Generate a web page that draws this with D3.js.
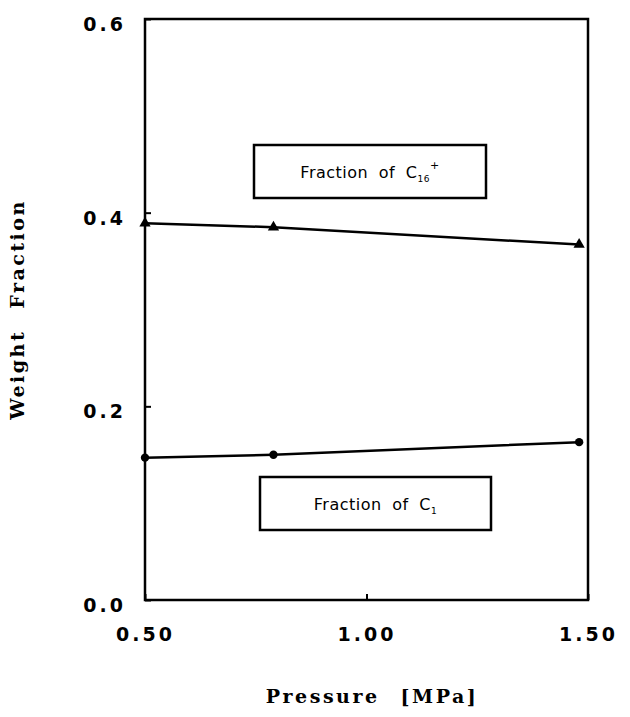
<!DOCTYPE html>
<html lang="en">
<head>
    <title>Weight Fraction vs Pressure</title>
    <meta charset="utf-8">
    <script src="https://cdn.jsdelivr.net/npm/d3@7/dist/d3.min.js" type="text/javascript"></script>
    <style>
        body { margin: 0; background: #fff; }
        svg text { fill: #000; }
        .tick-lbl { font-family: 'DejaVu Sans', sans-serif; font-weight: bold; font-size: 19px; letter-spacing: 3px; }
        .title { font-family: 'DejaVu Serif', serif; font-weight: bold; font-size: 19px; letter-spacing: 2.5px; word-spacing: 12px; }
        .legend { font-family: 'DejaVu Sans', sans-serif; font-size: 16px; letter-spacing: 0.5px; word-spacing: 5px; }
    </style>
</head>
<body>
<div id='chart'><svg></svg></div>

<script>
// pressure [MPa]
var pressure = [0.50, 0.79, 1.48];
// weight fraction series
var c16plus = [0.389, 0.385, 0.367];
var c1 = [0.147, 0.150, 0.163];

var x_ticks = [0.50, 1.00, 1.50];
var y_ticks = [0.0, 0.2, 0.4, 0.6];

var width = 630, height = 717;
var plot = {left: 145, right: 588, top: 19, bottom: 600};

var svg = d3.select('#chart svg')
    .attr('width', width)
    .attr('height', height);

var x = d3.scaleLinear().domain([0.5, 1.5]).range([plot.left, plot.right]);
var y = d3.scaleLinear().domain([0, 0.6]).range([plot.bottom, plot.top]);

// frame
svg.append('rect')
    .attr('x', plot.left).attr('y', plot.top)
    .attr('width', plot.right - plot.left).attr('height', plot.bottom - plot.top)
    .attr('fill', 'none').attr('stroke', '#000').attr('stroke-width', 2.5);

// y axis (inward ticks, labels on the left)
var yAxis = d3.axisLeft(y).tickValues(y_ticks).tickSize(-6).tickPadding(14)
    .tickFormat(d3.format('.1f'));
var gy = svg.append('g').attr('transform', 'translate(' + plot.left + ',0)').call(yAxis);
gy.select('.domain').remove();
gy.selectAll('line').attr('stroke', '#000').attr('stroke-width', 2);
gy.selectAll('text').attr('class', 'tick-lbl').attr('dy', '0.6em').attr('x', -19);

// x axis
var xAxis = d3.axisBottom(x).tickValues(x_ticks).tickSize(-6).tickPadding(20)
    .tickFormat(d3.format('.2f'));
var gx = svg.append('g').attr('transform', 'translate(0,' + plot.bottom + ')').call(xAxis);
gx.select('.domain').remove();
gx.selectAll('line').attr('stroke', '#000').attr('stroke-width', 2);
gx.selectAll('text').attr('class', 'tick-lbl').attr('dy', '1.1em');

// axis titles
svg.append('text').attr('class', 'title')
    .attr('text-anchor', 'middle')
    .attr('transform', 'translate(24,' + ((plot.top + plot.bottom) / 2) + ') rotate(-90)')
    .text('Weight Fraction');
svg.append('text').attr('class', 'title')
    .attr('text-anchor', 'middle')
    .attr('x', 372).attr('y', 703)
    .text('Pressure [MPa]');

var line = d3.line()
    .x(function(d) { return x(d[0]); })
    .y(function(d) { return y(d[1]); });

var series = [
    { values: d3.zip(pressure, c16plus), marker: d3.symbolTriangle },
    { values: d3.zip(pressure, c1), marker: d3.symbolCircle }
];

series.forEach(function(s) {
    svg.append('path')
        .datum(s.values)
        .attr('d', line)
        .attr('fill', 'none')
        .attr('stroke', '#000')
        .attr('stroke-width', 2.5);
    svg.selectAll(null)
        .data(s.values)
        .enter().append('path')
        .attr('d', d3.symbol().type(s.marker).size(55))
        .attr('transform', function(d) { return 'translate(' + x(d[0]) + ',' + y(d[1]) + ')'; })
        .attr('fill', '#000');
});

// legend boxes
function legendBox(bx, by, bw, bh, sub, sup) {
    var g = svg.append('g');
    g.append('rect')
        .attr('x', bx).attr('y', by).attr('width', bw).attr('height', bh)
        .attr('fill', '#fff').attr('stroke', '#000').attr('stroke-width', 2.5);
    var t = g.append('text').attr('class', 'legend')
        .attr('x', bx + bw / 2).attr('y', by + bh / 2 + 6)
        .attr('text-anchor', 'middle');
    t.append('tspan').text('Fraction of C');
    t.append('tspan').attr('font-size', '9px').attr('dy', 4).text(sub);
    if (sup) t.append('tspan').attr('font-size', '11px').attr('dy', -13).text(sup);
}
legendBox(254, 145, 232, 53, '16', '+');
legendBox(260, 477, 231, 53, '1', null);
</script>
</body>
</html>
